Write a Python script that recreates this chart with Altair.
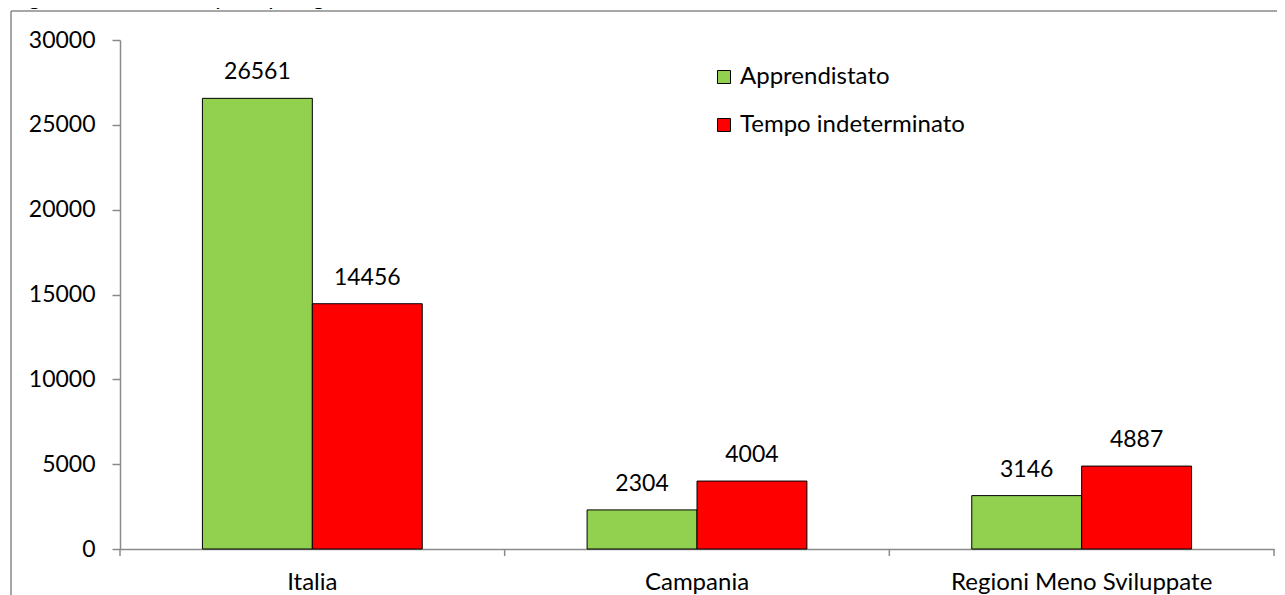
import altair as alt
import pandas as pd

categories = ["Italia", "Campania", "Regioni Meno Sviluppate"]
series = ["Apprendistato", "Tempo indeterminato"]
apprendistato = [26561, 2304, 3146]
tempo_indeterminato = [14456, 4004, 4887]
y_ticks = [0, 5000, 10000, 15000, 20000, 25000, 30000]
title_text = "Figura 16.Domande per tipologia di contratti al 31/12/2018"

rows = []
for c, a, t in zip(categories, apprendistato, tempo_indeterminato):
    rows.append({"cat": c, "serie": series[0], "val": a})
    rows.append({"cat": c, "serie": series[1], "val": t})
df = pd.DataFrame(rows)
cats_df = pd.DataFrame({"cat": categories})
one = pd.DataFrame({"k": [0]})

FONT = "Lato"
FS = 23
FS2 = 24
W, H = 1154, 509
GRAY = "#8a8a8a"

x_enc = alt.X("cat:N", sort=categories, title=None,
              scale=alt.Scale(paddingInner=0, paddingOuter=0),
              axis=alt.Axis(labelAngle=0, ticks=False, labelPadding=21, labelLimit=0,
                            labelFont=FONT, labelFontSize=FS2, labelColor="black",
                            domainColor=GRAY, domainWidth=1.5))
xoff = alt.XOffset("serie:N", sort=series,
                   scale=alt.Scale(paddingInner=0, paddingOuter=0.75))
y_enc = alt.Y("val:Q", title=None,
              scale=alt.Scale(domain=[0, 30000], nice=False),
              axis=alt.Axis(values=y_ticks, format="d", grid=False, tickSize=8,
                            tickColor=GRAY, tickWidth=1.5, labelPadding=17,
                            labelFont=FONT, labelFontSize=FS, labelColor="black",
                            domainColor=GRAY, domainWidth=1.5))
color = alt.Color("serie:N", sort=series, title=None,
                  scale=alt.Scale(domain=series, range=["#92D050", "#FF0000"]),
                  legend=alt.Legend(orient="none", legendX=592, legendY=25,
                                    padding=0, symbolType="square", symbolSize=169,
                                    symbolStrokeColor="black", symbolStrokeWidth=1,
                                    symbolOpacity=1, labelOffset=4, rowPadding=24,
                                    labelLimit=0,
                                    labelFont=FONT, labelFontSize=FS2,
                                    labelColor="black"))

bars = alt.Chart(df).mark_bar(stroke="black", strokeWidth=1, opacity=1).encode(
    x=x_enc, xOffset=xoff, y=y_enc, color=color)

labels = alt.Chart(df).mark_text(dy=-19, baseline="alphabetic", font=FONT,
                                 fontSize=FS, color="black").encode(
    x=alt.X("cat:N", sort=categories), xOffset=xoff, y="val:Q",
    text=alt.Text("val:Q", format="d"))

xticks = alt.Chart(cats_df).mark_rule(color=GRAY, strokeWidth=1.5).encode(
    x=alt.X("cat:N", sort=categories, bandPosition=0),
    y=alt.value(H), y2=alt.value(H + 7))
xtick_end = alt.Chart(one).mark_rule(color=GRAY, strokeWidth=1.5).encode(
    x=alt.value(W), y=alt.value(H), y2=alt.value(H + 7))

border_top = alt.Chart(one).mark_rule(color=GRAY, strokeWidth=1.5).encode(
    x=alt.value(-109), x2=alt.value(W + 20), y=alt.value(-29))
border_left = alt.Chart(one).mark_rule(color=GRAY, strokeWidth=1.5).encode(
    x=alt.value(-109), y=alt.value(-29), y2=alt.value(H + 60))
title = alt.Chart(one).mark_text(align="left", baseline="alphabetic", font=FONT,
                                 fontSize=FS, color="black").encode(
    x=alt.value(-110), y=alt.value(-35), text=alt.value(title_text))

chart = alt.layer(border_top, border_left, title, bars, labels, xticks, xtick_end).properties(
    width=W, height=H,
    autosize=alt.AutoSizeParams(type="none"),
    padding={"left": 112, "top": 32, "right": 3, "bottom": 46},
).configure_view(stroke=None)

chart.save("out.html", embed_options={"renderer": "svg", "actions": False})
